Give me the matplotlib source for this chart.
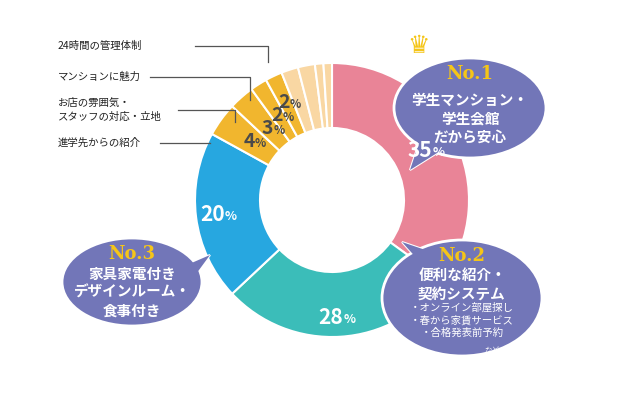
import numpy as np
import matplotlib.pyplot as plt
from matplotlib.patches import Wedge, Ellipse, Polygon

plt.rcParams["font.family"] = "Noto Sans CJK JP"

shares = [35, 28, 20, 4, 3, 2, 2, 2, 2, 1, 1]
colors = ["#e98497", "#3bbdb9", "#27a7e0", "#f1b62e", "#f1b62e", "#f1b62e", "#f1b62e",
          "#f9d7a3", "#f9d7a3", "#f9d7a3", "#f9d7a3"]
pct_labels = ["35", "28", "20", "4", "3", "2", "2"]
small_names = ["進学先からの紹介", "お店の雰囲気・\nスタッフの対応・立地", "マンションに魅力", "24時間の管理体制"]

fig = plt.figure(figsize=(6.4, 4), dpi=100)
ax = fig.add_axes([0, 0, 1, 1])
ax.set_xlim(0, 640)
ax.set_ylim(400, 0)
ax.set_aspect("equal")
ax.axis("off")

cx, cy, r_out, r_in = 332, 200, 137, 72
theta = -90.0  # top, clockwise on screen
mids = []
for s, c in zip(shares, colors):
    span = s * 3.6
    ax.add_patch(Wedge((cx, cy), r_out, theta, theta + span, width=r_out - r_in,
                       facecolor=c, edgecolor="white", linewidth=1.5))
    mids.append(theta + span / 2)
    theta += span

# label radius per slice (big ones in the ring, small ones near outer edge)
lab_r = [108, 118, 112, 100, 95, 100, 108]
for i, lab in enumerate(pct_labels):
    a = np.radians(mids[i])
    x, y = cx + lab_r[i] * np.cos(a), cy + lab_r[i] * np.sin(a)
    col = "white" if i < 3 else "#4a4a4a"
    fs = 15 if i < 3 else 14
    ax.text(x + 4, y, lab, color=col, fontsize=fs, fontweight="bold", ha="right", va="center", zorder=6)
    ax.text(x + 4, y + 2, "%", color=col, fontsize=fs * 0.6, fontweight="bold", ha="left",
            va="center", zorder=6)

# leader lines for small slices
line_y = [143, 110, 77, 46]
line_x0 = [160, 178, 150, 195]
line_x1 = [210, 235, 250, 268]
line_y1 = [143, 122, 100, 62]
for i in range(4):
    ax.plot([line_x0[i], line_x1[i], line_x1[i]], [line_y[i], line_y[i], line_y1[i]],
            color="#555555", lw=0.9)
name_pos = [(58, 143), (58, 110), (58, 77), (58, 46)]
for (x, y), name in zip(name_pos, small_names):
    ax.text(x, y, name, fontsize=7.5, ha="left", va="center", color="#222222", linespacing=1.4)


def bubble(x, y, w, h, tail, title, body, body_dy):
    ax.add_patch(Polygon(tail, closed=True, facecolor="#7276b8", edgecolor="white", lw=1.5, zorder=3))
    ax.add_patch(Ellipse((x, y), w, h, facecolor="#7276b8", edgecolor="white", lw=2, zorder=3))
    ax.add_patch(Polygon(tail, closed=True, facecolor="#7276b8", edgecolor="none", zorder=4))
    ax.text(x, y - h / 2 + 16, title, fontsize=13, fontweight="bold", color="#f5c518",
            ha="center", va="center", family="DejaVu Serif", zorder=5)
    ax.text(x, y + body_dy, body, fontsize=10.5, fontweight="bold", color="white",
            ha="center", va="center", linespacing=1.2, zorder=5)


bubble(470, 108, 152, 100, [(420, 140), (410, 170), (445, 148)], "No.1",
       "学生マンション・\n学生会館\nだから安心", 10)
bubble(462, 298, 160, 116, [(420, 262), (402, 242), (440, 255)], "No.2",
       "便利な紹介・\n契約システム", -14)
ax.text(462, 320, "・オンライン部屋探し\n・春から家賃サービス\n・合格発表前予約", fontsize=7.5,
        color="white", ha="center", va="center", linespacing=1.3, zorder=5)
ax.text(492, 351, "など", fontsize=5.5, color="white", ha="center", va="center", zorder=5)
bubble(132, 282, 140, 88, [(180, 268), (210, 255), (188, 285)], "No.3",
       "家具家電付き\nデザインルーム・\n食事付き", 10)
ax.text(418, 46, "♛", fontsize=18, color="#f5c518", ha="center", va="center",
        family="DejaVu Sans", zorder=6)

fig.savefig("out.png", dpi=100)
